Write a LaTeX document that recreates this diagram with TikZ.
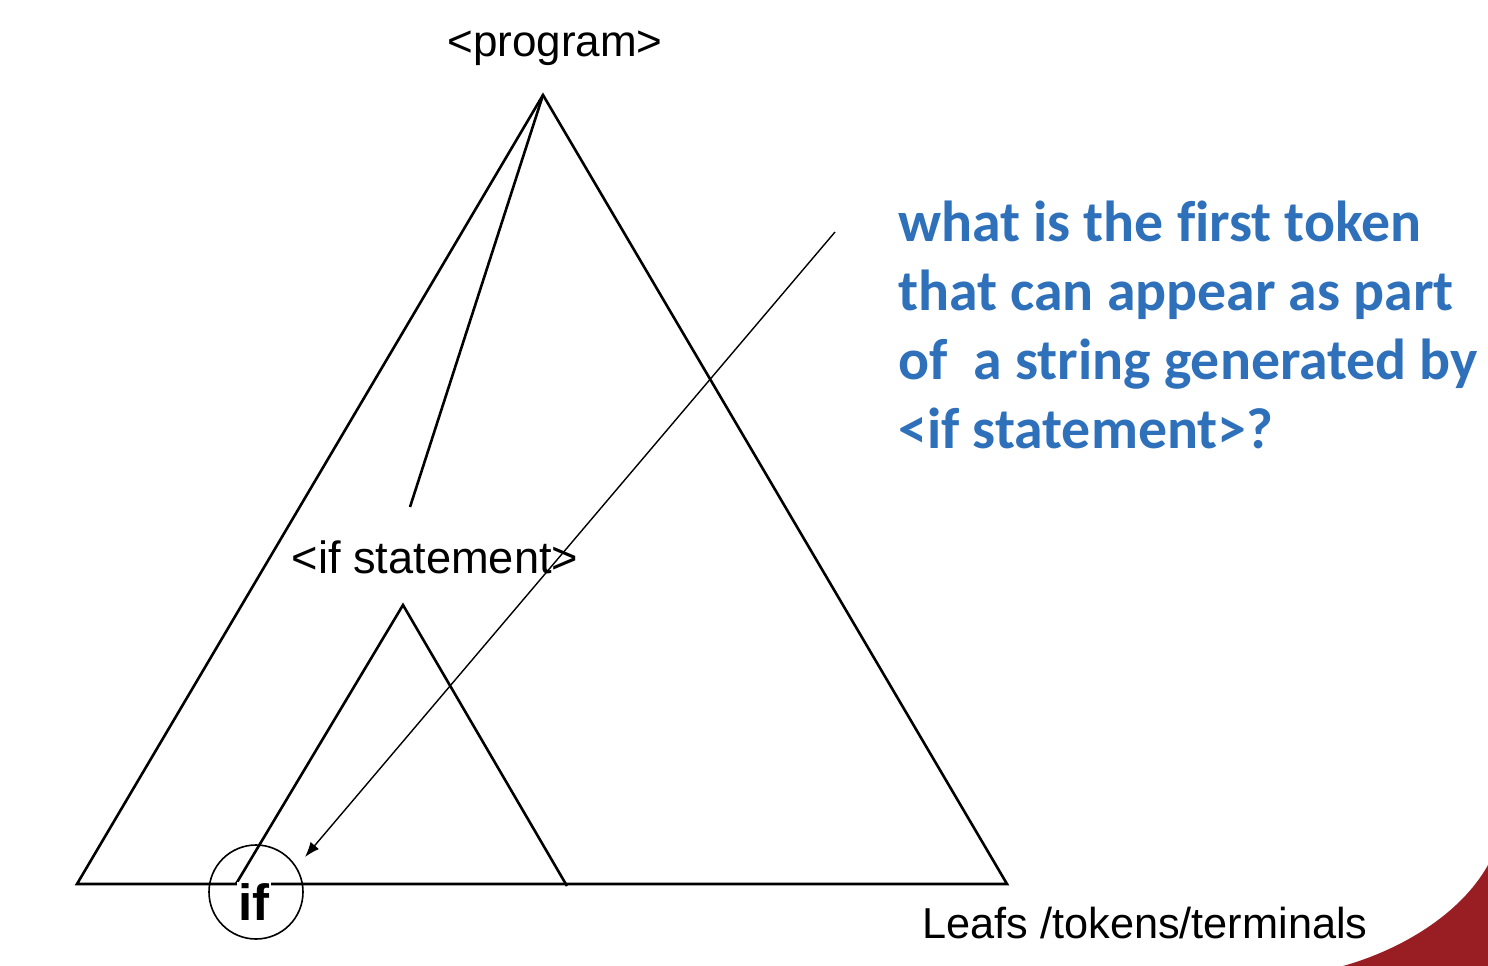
\documentclass[tikz,border=0pt]{standalone}
\usepackage{fontspec}
\setmainfont{Liberation Sans}
\newfontfamily\qfont[Ligatures=NoCommon]{Carlito}
\usetikzlibrary{arrows.meta}
\definecolor{qblue}{RGB}{46,112,186}
\definecolor{cornerred}{RGB}{152,30,35}

\begin{document}
\begin{tikzpicture}[x=1pt,y=-1pt,line width=2.6pt,
  every node/.style={font=\fontsize{44}{50}\selectfont,inner sep=2pt},
  qtext/.style={text=qblue,align=left,font=\qfont\bfseries\fontsize{57.8}{69}\selectfont}]
\useasboundingbox (0,0) rectangle (1488,966);

% corner decoration
\fill[cornerred] (1343,966) .. controls (1400,950) and (1460,915) .. (1488,865) -- (1488,966) -- cycle;

\coordinate (top) at (543,95);
\coordinate (bl) at (77,884);
\coordinate (br) at (1007,884);
\coordinate (ifin) at (410,507);
\coordinate (ifout) at (403,605);
\coordinate (ifbl) at (236,884);
\coordinate (ifbr) at (567,886);
\coordinate (qstart) at (835,232);
\coordinate (tip) at (305,857);

\node[anchor=base] (prog) at (555,57) {<program>};

% parse tree
\draw (top)--(bl)--(br)--cycle;
\draw (top)--(ifin);
\draw (ifbl)--(ifout)--(ifbr);

\node[fill=white,anchor=base,font=\fontsize{45.2}{50}\selectfont] (ifst) at (435,573) {<if statement>};
\node[draw,circle,minimum size=94pt,line width=1.6pt] (leaf) at (256,892) {};
\node[fill=white,anchor=base,inner sep=1pt,font=\bfseries\fontsize{51}{56}\selectfont] (iftok) at (254,920) {if};

\draw[-{Latex[length=15pt,width=11pt]},line width=1.4pt] (qstart)--(tip);

\node[anchor=base west,font=\fontsize{43.3}{50}\selectfont] (leafs) at (919,938) {Leafs /tokens/terminals};
\node[qtext,anchor=base west] (question) at (895,448) {what is the first token\\that can appear as part\\of\ \ a string generated by\\<if statement>?};
\end{tikzpicture}
\end{document}
